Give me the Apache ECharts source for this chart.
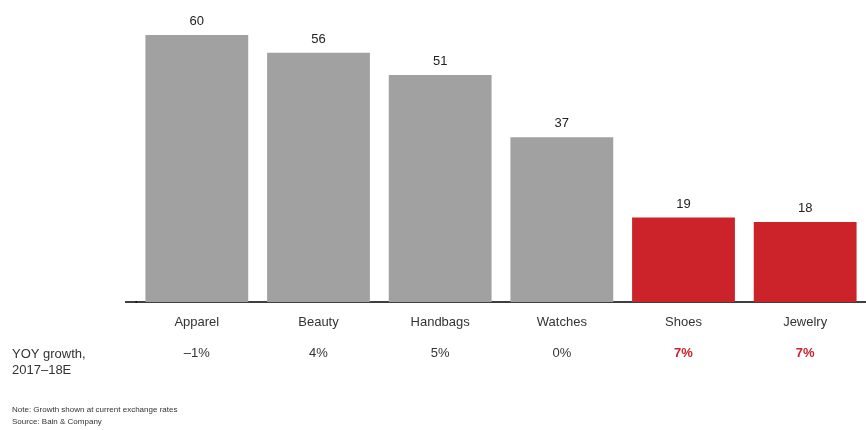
<!DOCTYPE html>
<html>
<head>
<meta charset="utf-8">
<script src="https://cdn.jsdelivr.net/npm/echarts@6/dist/echarts.min.js"></script>
<style>
  html, body { margin: 0; padding: 0; background: #fff; }
  #chart { width: 866px; height: 430px; }
</style>
</head>
<body>
<div id="chart"></div>
<script>
const categories = ['Apparel', 'Beauty', 'Handbags', 'Watches', 'Shoes', 'Jewelry']
const values = [60, 56, 51, 37, 19, 18]
const growth = ['–1%', '4%', '5%', '0%', '7%', '7%']
const highlighted = [false, false, false, false, true, true]

const GRAY = '#a1a1a2'
const RED = '#cc2229'
const FONT = '"Liberation Sans", Arial, sans-serif'

const chart = echarts.init(document.getElementById('chart'))

chart.setOption({
  animation: false,
  textStyle: { fontFamily: FONT },
  grid: { left: 136, right: -2, top: 35, bottom: 128 },
  xAxis: {
    type: 'category',
    data: categories,
    axisLine: { lineStyle: { color: '#000', width: 1.5 } },
    axisTick: { show: false },
    axisLabel: {
      margin: 13,
      formatter: (name, i) => name + '\n{' + (highlighted[i] ? 'r' : 'g') + '|' + growth[i] + '}',
      color: '#333',
      fontSize: 13,
      lineHeight: 14,
      rich: {
        g: { color: '#333', fontSize: 13, padding: [34, 0, 0, 0] },
        r: { color: RED, fontSize: 13, fontWeight: 'bold', padding: [34, 0, 0, 0] }
      }
    }
  },
  yAxis: {
    type: 'value',
    min: 0,
    max: 60,
    show: false
  },
  series: [{
    type: 'bar',
    barCategoryGap: '15.5%',
    data: values.map((v, i) => ({
      value: v,
      itemStyle: { color: highlighted[i] ? RED : GRAY }
    })),
    label: {
      show: true,
      position: 'top',
      distance: 7,
      color: '#222',
      fontSize: 13
    }
  }],
  graphic: [
    {
      // axis line runs a little past the first category on the left
      type: 'line',
      shape: { x1: 125, y1: 302, x2: 137, y2: 302 },
      style: { stroke: '#000', lineWidth: 1.5 }
    },
    {
      type: 'text',
      left: 12,
      top: 346,
      style: { text: 'YOY growth,\n2017–18E', fill: '#333', font: '13px ' + FONT, lineHeight: 16 }
    },
    {
      type: 'text',
      left: 12,
      top: 404,
      style: {
        text: 'Note: Growth shown at current exchange rates\nSource: Bain & Company',
        fill: '#333', font: '8px ' + FONT, lineHeight: 12
      }
    }
  ]
})
</script>
</body>
</html>
